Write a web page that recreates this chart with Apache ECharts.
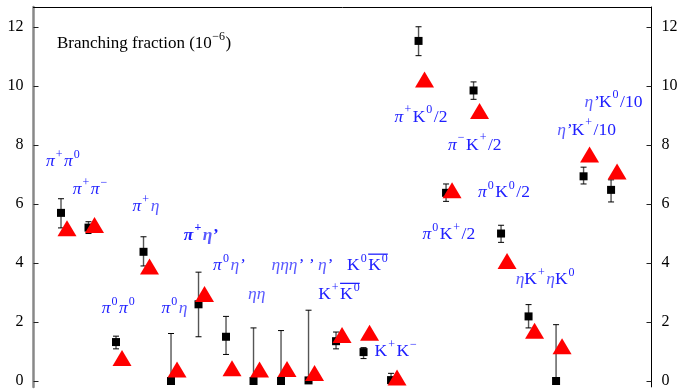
<!DOCTYPE html>
<html><head><meta charset="utf-8">
<script src="https://cdn.jsdelivr.net/npm/echarts@6/dist/echarts.min.js"></script>
<style>html,body{margin:0;padding:0;background:#fff}#c{width:682px;height:389px}</style>
</head><body><div id="c"></div>
<script>
// ---- data ----
const channels = ['π+π0','π+π−','π0π0','π+η','π0η','π+η’','π0η’','ηη','ηη’','η’η’','K+K0bar','K0K0bar','K+K−','π+K0/2','π0K+/2','π−K+/2','π0K0/2','ηK+','ηK0','η’K+/10','η’K0/10'];
const positions = [1,2,3,4,5,6,7,8,9,10,11,12,13,14,15,16,17,18,19,20,21];
const expValue = [5.70,5.20,1.32,4.38,0.00,2.60,1.50,0.00,0.00,0.02,1.35,0.98,0.03,11.53,6.38,9.85,5.00,2.19,0.00,6.94,6.48];
const expLow   = [5.19,5.00,1.09,3.90,0.00,1.50,0.90,0.00,0.00,0.00,1.09,0.76,0.00,11.03,6.09,9.55,4.70,1.80,0.00,6.68,6.07];
const expHigh  = [6.18,5.40,1.52,4.89,1.61,3.69,2.19,1.80,1.71,2.40,1.66,1.13,0.26,12.01,6.68,10.14,5.28,2.59,1.91,7.25,6.82];
const theoryValue = [5.18,5.29,0.78,3.88,0.39,2.95,0.43,0.39,0.41,0.27,1.56,1.64,0.12,10.22,6.47,9.15,4.07,1.70,1.18,7.68,7.10];
const yTicks = [0,2,4,6,8,10,12];
const titleText = 'Branching fraction (10';
const titleSup = '−6';
// annotation labels: markup (^{..} superscript, [..] overline) and anchor in data units
const annoText = ['π^{+}π^{0}','π^{+}π^{−}','π^{+}η','π^{+}η’','π^{0}η’','ηη','ηηη’ ’ η’','K^{0}[K^{0}]','K^{+}[K^{0}]','K^{+}K^{−}','π^{+}K^{0}/2','π^{−}K^{+}/2','π^{0}K^{0}/2','π^{0}K^{+}/2','ηK^{+}ηK^{0}','η’K^{+}/10','η’K^{0}/10','π^{0}π^{0}','π^{0}η'];
const annoX = [0.454,1.424,3.603,5.467,6.531,7.802,8.652,11.40,10.35,12.40,13.13,15.07,16.16,14.14,17.53,19.04,20.03,2.477,4.657];
const annoY = [7.44,6.48,5.92,4.94,3.91,2.94,3.93,3.91,2.92,1.00,8.95,7.99,6.39,4.96,3.44,8.50,9.46,2.46,2.46];
const annoBold = [false,false,false,true,false,false,false,false,false,false,false,false,false,false,false,false,false,false,false];

// ---- helpers ----
const FAM = '"Liberation Serif", "DejaVu Serif", serif';
const mctx = document.createElement('canvas').getContext('2d');
function measure(t, st, wt, sz){ mctx.font = st+' '+wt+' '+sz+'px '+FAM; return mctx.measureText(t).width; }
function parse(s){
  const toks=[]; let bar=false; let i=0;
  while(i<s.length){
    const c=s[i];
    if(c==='^' && s[i+1]==='{'){ const j=s.indexOf('}',i); toks.push({t:s.slice(i+2,j),sup:true,bar}); i=j+1; }
    else if(c==='['){bar=true;i++;}
    else if(c===']'){bar=false;i++;}
    else { toks.push({t:c,sup:false,bar}); i++; }
  }
  return toks;
}
const MAIN=17.5, SUP=12;
function renderAnno(params, api){
  const idx = params.dataIndex;
  const p = api.coord([api.value(0), api.value(1)]);
  const toks = parse(annoText[idx]);
  const bold = annoBold[idx];
  let x = p[0];
  const children = [];
  let bx0=null, bx1=null;
  toks.forEach((tk,k)=>{
    const greek = /[πη’]/.test(tk.t);
    const st = greek ? 'italic' : 'normal';
    const wt = bold ? 'bold' : 'normal';
    const sz = tk.sup ? SUP : MAIN;
    if(tk.sup) x += 1;
    const w = measure(tk.t, st, wt, sz);
    const fill = /η/.test(tk.t) ? '#5a5aff' : '#2020ff';
    children.push({type:'text', style:{text:tk.t, x:x, y:p[1] + (tk.sup ? -7 : 0), fontSize:sz, fontFamily:FAM, fontStyle:st, fontWeight:wt, fill:fill, align:'left', verticalAlign:'middle'}});
    if(tk.bar){ if(bx0===null) bx0=x; bx1=x+w; }
    x += w + (tk.sup ? 1.5 : 0);
  });
  if(bx0!==null){
    children.push({type:'line', shape:{x1:bx0, y1:p[1]-11.5, x2:bx1, y2:p[1]-11.5}, style:{stroke:'#2020ff', lineWidth:1.3}});
  }
  return {type:'group', children};
}
function renderErr(params, api){
  const xv = api.value(0);
  const lo = api.coord([xv, api.value(1)]);
  const hi = api.coord([xv, api.value(2)]);
  const h = 3;
  return {type:'group', children:[
    {type:'line', shape:{x1:lo[0],y1:lo[1],x2:hi[0],y2:hi[1]}, style:{stroke:'#555', lineWidth:1.4}},
    {type:'line', shape:{x1:hi[0]-h,y1:hi[1],x2:hi[0]+h,y2:hi[1]}, style:{stroke:'#000', lineWidth:1}},
    {type:'line', shape:{x1:lo[0]-h,y1:lo[1],x2:lo[0]+h,y2:lo[1]}, style:{stroke:'#000', lineWidth:1}}
  ]};
}

const chart = echarts.init(document.getElementById('c'), null, {renderer:'canvas'});
const wTitle = measure(titleText,'normal','normal',17);
const wSup = measure(titleSup,'normal','normal',12);
const yAxisBase = (pos, color, width) => ({
  type:'value', min:-0.2, max:12.68, position:pos,
  axisLine:{show:true, onZero:false, lineStyle:{color:color, width:width}},
  axisTick:{show:true, inside:true, length:5, customValues:yTicks, lineStyle:{color:'#222', width:1}},
  axisLabel:{show:true, customValues:yTicks, margin:10, color:'#000', fontSize:16, fontFamily:FAM},
  splitLine:{show:false}
});
chart.setOption({
  animation:false,
  backgroundColor:'#fff',
  grid:{left:33.5, right:30.5, top:7, bottom:0, containLabel:false},
  xAxis:[
    {type:'value', min:0, max:22.47, position:'bottom', axisLine:{show:false}, axisTick:{show:false}, axisLabel:{show:false}, splitLine:{show:false}},
    {type:'value', min:0, max:22.47, position:'top', axisLine:{show:true, onZero:false, lineStyle:{color:'#000', width:1}}, axisTick:{show:false}, axisLabel:{show:false}, splitLine:{show:false}}
  ],
  yAxis:[ yAxisBase('left','#888',2.5), yAxisBase('right','#000',1) ],
  graphic:[
    {type:'text', x:57, y:43.5, style:{text:titleText, fontSize:17, fontFamily:FAM, fill:'#000', verticalAlign:'middle', textVerticalAlign:'middle'}},
    {type:'text', x:57+wTitle+0.5, y:37, style:{text:titleSup, fontSize:12, fontFamily:FAM, fill:'#000', verticalAlign:'middle', textVerticalAlign:'middle'}},
    {type:'text', x:57+wTitle+wSup+1, y:43.5, style:{text:')', fontSize:17, fontFamily:FAM, fill:'#000', verticalAlign:'middle', textVerticalAlign:'middle'}}
  ],
  series:[
    {type:'custom', name:'err', renderItem:renderErr, clip:false, z:2,
     data: positions.map((p,i)=>[p, expLow[i], expHigh[i]])},
    {type:'scatter', name:'exp', symbol:'rect', symbolSize:8, itemStyle:{color:'#000', opacity:1}, z:3, clip:false,
     data: positions.map((p,i)=>[p, expValue[i]])},
    {type:'scatter', name:'theory', symbol:'triangle', symbolSize:[19,16], symbolOffset:[6,0], itemStyle:{color:'#ff0000', opacity:1}, z:4, clip:false,
     data: positions.map((p,i)=>[p, theoryValue[i]])},
    {type:'custom', name:'labels', renderItem:renderAnno, clip:false, z:5, silent:true,
     data: annoX.map((x,i)=>[x, annoY[i]])}
  ]
});
</script></body></html>
